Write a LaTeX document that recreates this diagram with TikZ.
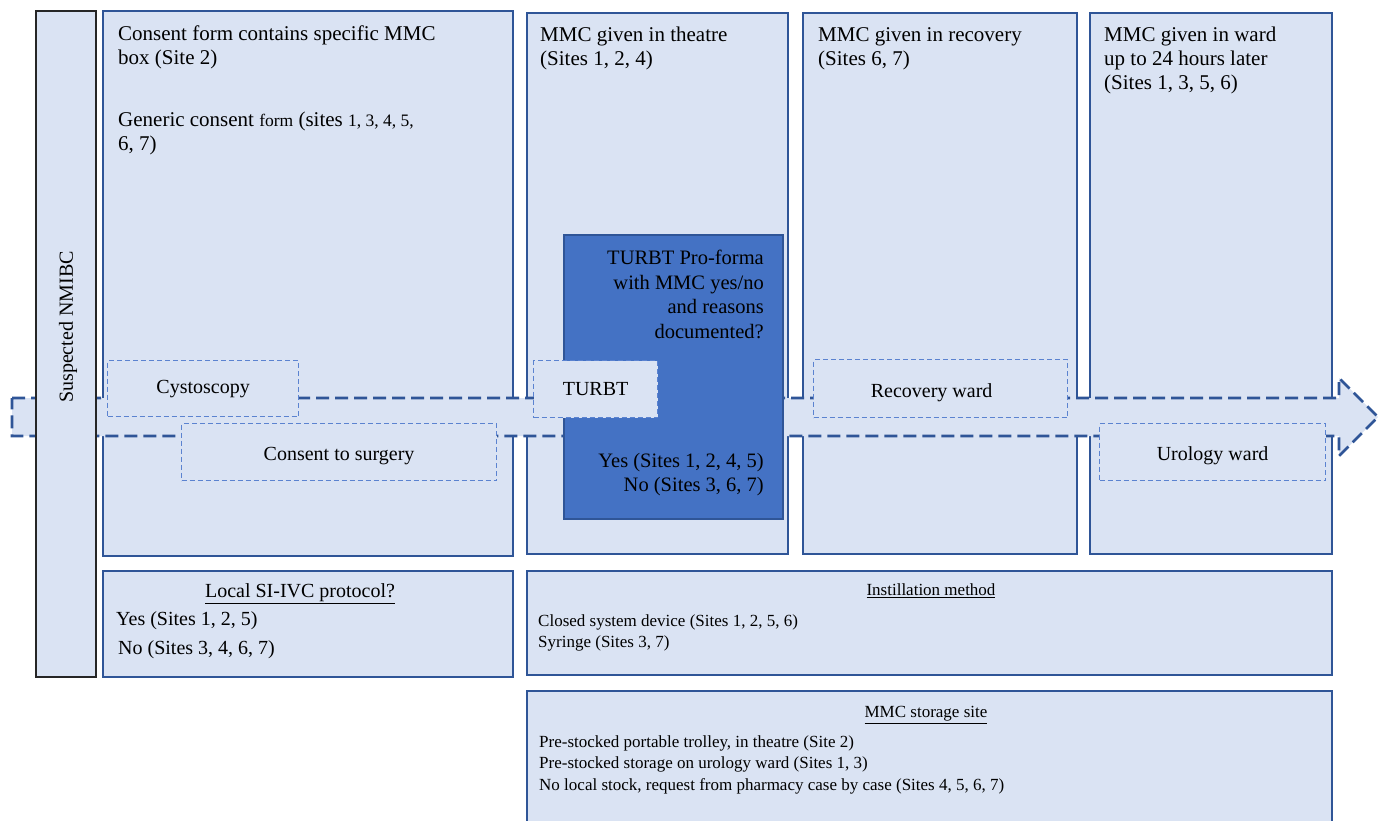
\documentclass[tikz,border=0pt]{standalone}
\usepackage{fontspec}
\setmainfont{Liberation Serif}
\definecolor{boxfill}{HTML}{DAE3F3}
\definecolor{boxline}{HTML}{2F5597}
\definecolor{darkfill}{HTML}{4472C4}
\definecolor{dashline}{HTML}{5B83D0}
\begin{document}
\begin{tikzpicture}[x=1pt,y=-1pt,
  colbox/.style={draw=boxline, fill=boxfill, line width=2pt, anchor=north west, inner sep=0pt},
  sidebox/.style={draw=black!85, fill=boxfill, line width=1.5pt, anchor=north west, inner sep=0pt},
  probox/.style={draw=boxline, fill=darkfill, line width=2pt, anchor=north west, inner sep=0pt},
  stagebox/.style={draw=dashline, fill=boxfill, line width=1.2pt, dash pattern=on 5pt off 3pt, anchor=north west, inner sep=0pt, font=\fontsize{20}{24}\selectfont, align=center},
  lowtext/.style={text height=21pt, text depth=4pt},
  flowline/.style={draw=boxline, fill=boxfill, line width=2.6pt, dash pattern=on 13pt off 6pt},
  headtext/.style={inner sep=0pt, anchor=north west, align=left, font=\fontsize{21}{24}\selectfont},
  righttext/.style={inner sep=0pt, anchor=north east, align=right, font=\fontsize{20.5}{24.5}\selectfont},
  smalltext/.style={inner sep=0pt, anchor=north west, align=left, font=\fontsize{17}{21.5}\selectfont},
  smalltitle/.style={inner sep=0pt, font=\fontsize{17}{21}\selectfont},
  midtext/.style={inner sep=0pt, font=\fontsize{20}{24}\selectfont}
]
\useasboundingbox (0,0) rectangle (1384,820);
% column boxes
\node[colbox, minimum width=410pt, minimum height=545pt] (c1) at (102,10) {};
\node[colbox, minimum width=261pt, minimum height=541pt] (c2) at (526,12) {};
\node[colbox, minimum width=274pt, minimum height=541pt] (c3) at (802,12) {};
\node[colbox, minimum width=242pt, minimum height=541pt] (c4) at (1089,12) {};
% bottom boxes
\node[colbox, minimum width=410pt, minimum height=106pt] (local) at (102,570) {};
\node[colbox, minimum width=805pt, minimum height=104pt] (inst) at (526,570) {};
\node[colbox, minimum width=805pt, minimum height=140pt] (stor) at (526,690) {};
% process arrow
\path[flowline] (12,398) -- (1339,398) -- (1339,378) -- (1378,417) -- (1339,456) -- (1339,436) -- (12,436) -- cycle;
% side box
\node[sidebox, minimum width=60pt, minimum height=666pt] (susp) at (35,10) {};
\node[midtext, rotate=90] (susptext) at (68,327) {Suspected NMIBC};
% pro-forma box
\node[probox, minimum width=219pt, minimum height=284pt] (pro) at (563,234) {};
% stage boxes
\node[stagebox, minimum width=191pt, minimum height=56pt] (cyst) at (107,360) {Cystoscopy};
\node[stagebox, lowtext, minimum width=315pt, minimum height=57pt] (cons) at (181,423) {Consent to surgery};
\node[stagebox, minimum width=124pt, minimum height=57pt] (turbt) at (533,360) {TURBT};
\node[stagebox, lowtext, minimum width=254pt, minimum height=58pt] (recov) at (813,359) {Recovery ward\hspace{18pt}};
\node[stagebox, lowtext, minimum width=226pt, minimum height=57pt] (uro) at (1099,423) {Urology ward};
% column texts
\node[headtext] (t1a) at (118,26) {Consent form contains specific MMC\\box (Site 2)};
\node[headtext] (t1b) at (118,112) {Generic consent {\fontsize{17.5}{24}\selectfont form} (sites {\fontsize{17.5}{24}\selectfont 1, 3, 4, 5,}\\6, 7)};
\node[headtext] (t2) at (540,27) {MMC given in theatre\\(Sites 1, 2, 4)};
\node[headtext] (t3) at (818,27) {MMC given in recovery\\(Sites 6, 7)};
\node[headtext] (t4) at (1104,27) {MMC given in ward\\up to 24 hours later\\(Sites 1, 3, 5, 6)};
\node[righttext] (pro1) at (764,250) {TURBT Pro-forma\\with MMC yes/no\\and reasons\\documented?};
\node[righttext] (pro2) at (764,453) {Yes (Sites 1, 2, 4, 5)\\No (Sites 3, 6, 7)};
% local protocol
\node[midtext] (loctitle) at (300,594) {\underline{Local SI-IVC protocol?}};
\node[midtext, anchor=west] (locyes) at (116,621) {Yes (Sites 1, 2, 5)};
\node[midtext, anchor=west] (locno) at (118,650) {No (Sites 3, 4, 6, 7)};
% instillation
\node[smalltitle] (insttitle) at (931,591) {\underline{Instillation method}};
\node[smalltext] (insttext) at (538,614) {Closed system device (Sites 1, 2, 5, 6)\\Syringe (Sites 3, 7)};
% storage
\node[smalltitle] (stortitle) at (926,715) {\underline{MMC storage site}};
\node[smalltext] (stortext) at (539,735) {Pre-stocked portable trolley, in theatre (Site 2)\\Pre-stocked storage on urology ward (Sites 1, 3)\\No local stock, request from pharmacy case by case (Sites 4, 5, 6, 7)};
\end{tikzpicture}
\end{document}
